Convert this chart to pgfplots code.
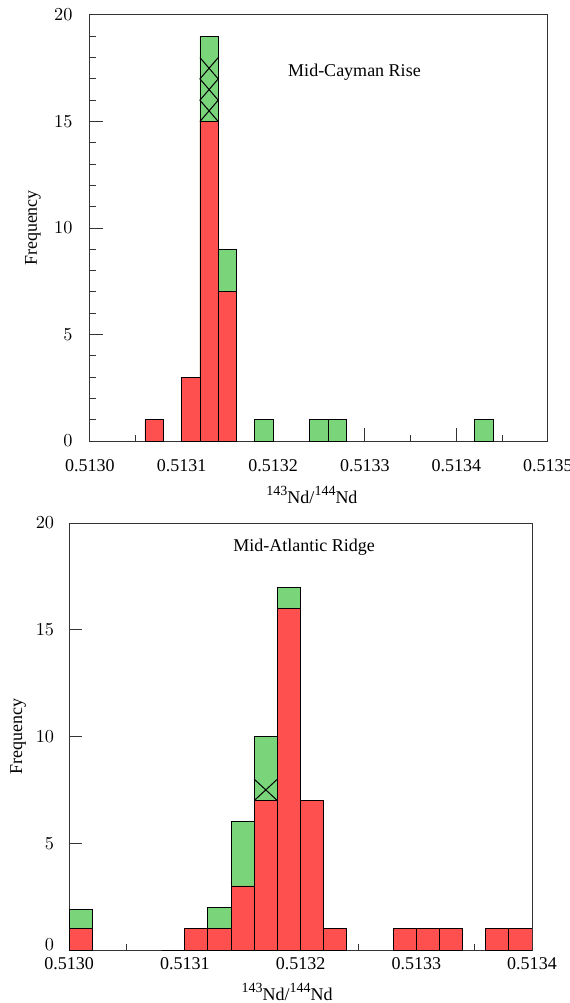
\documentclass[border=0pt]{standalone}
\usepackage{fontspec}
\setmainfont{Liberation Serif}
\usepackage{pgfplots}
\pgfplotsset{compat=1.18}

\definecolor{barred}{RGB}{255,80,80}
\definecolor{bargreen}{RGB}{122,212,122}

\newcommand{\sups}[1]{\raisebox{4.8pt}{\fontsize{8.4}{10}\selectfont #1}}

% x is given in units of 1e-5 above 0.5130 (bin centres, bin width 2e-5)
\pgfplotsset{
  histo/.style={
    scale only axis, ybar, bar width=2,
    every axis plot/.append style={bar shift=0pt, draw=black, line width=0.5pt},
    ymin=0, ymax=20,
    tick align=inside, xtick pos=bottom, ytick pos=left,
    major tick length=8pt, minor tick length=3.6pt,
    axis line style={black!80, line width=0.6pt},
    tick style={black!80, line width=0.6pt},
    font=\fontsize{10.8}{12}\selectfont,
    ylabel={Frequency},
    xlabel={\sups{143}Nd/\sups{144}Nd},
  },
}

\begin{document}
\begin{tikzpicture}
\path[use as bounding box] (0,0) rectangle (342pt,-601.8pt);

% ---- Mid-Cayman Rise ----
\begin{axis}[histo,
  at={(54pt,-9pt)}, anchor=north west,
  width=274.8pt, height=255.6pt,
  xmin=0, xmax=50,
  xtick={0,10,20,30,40,50},
  xticklabels={0.5130,0.5131,0.5132,0.5133,0.5134,0.5135},
  ytick={0,5,10,15,20},
  minor x tick num=1, minor y tick num=4,
  yticklabel style={xshift=-7pt},
  xticklabel style={yshift=-7.8pt},
  ylabel style={at={(axis description cs:-0.1245,0.5)}, anchor=center},
  xlabel style={at={(axis description cs:0.5,0)}, xshift=-4.2pt, yshift=-37.2pt, anchor=base},
]
\addplot[fill=bargreen] coordinates {(13,19)(15,9)(19,1)(25,1)(27,1)(43,1)};
\addplot[fill=barred] coordinates {(7,1)(11,3)(13,15)(15,7)};
\addplot[sharp plot, no marks, black, line width=0.6pt] coordinates {(12,15)(14,16)(12,17)(14,18)};
\addplot[sharp plot, no marks, black, line width=0.6pt] coordinates {(14,15)(12,16)(14,17)(12,18)};
\node[anchor=west] at (axis cs:21,17.3) {Mid-Cayman Rise};
\end{axis}

% ---- Mid-Atlantic Ridge ----
\begin{axis}[histo,
  at={(41.4pt,-313.8pt)}, anchor=north west,
  width=277.8pt, height=256.2pt,
  xmin=0, xmax=40,
  xtick={0,10,20,30,40},
  xticklabels={0.5130,0.5131,0.5132,0.5133,0.5134},
  ytick={5,10,15,20},
  extra y ticks={0},
  extra y tick style={yticklabel style={anchor=south east, xshift=0pt, yshift=-3.6pt}},
  minor x tick num=1,
  yticklabel style={xshift=-5.4pt},
  xticklabel style={yshift=-1.2pt},
  ylabel style={at={(axis description cs:-0.110,0.5)}, anchor=center},
  xlabel style={at={(axis description cs:0.5,0)}, xshift=-8pt, yshift=-30pt, anchor=base},
]
\addplot[fill=bargreen] coordinates {(1,1.9)(13,2)(15,6)(17,10)(19,17)};
\addplot[fill=barred] coordinates {(1,1)(9,0)(11,1)(13,1)(15,3)(17,7)(19,16)(21,7)(23,1)(29,1)(31,1)(33,1)(37,1)(39,1)};
\addplot[sharp plot, no marks, black, line width=0.6pt] coordinates {(16,7)(18,8)};
\addplot[sharp plot, no marks, black, line width=0.6pt] coordinates {(18,7)(16,8)};
\node[anchor=west] at (axis cs:13.7,18.85) {Mid-Atlantic Ridge};
\end{axis}
\end{tikzpicture}
\end{document}
